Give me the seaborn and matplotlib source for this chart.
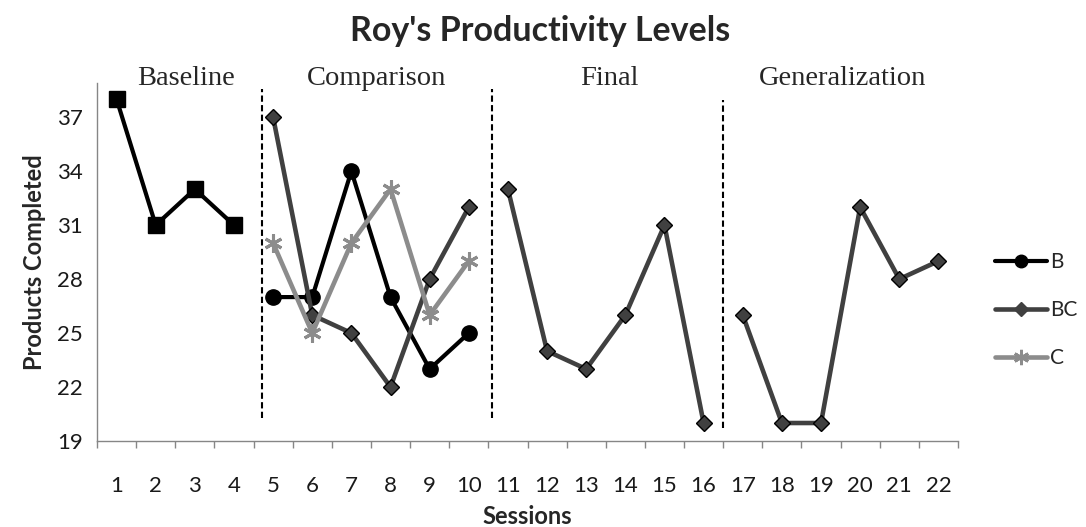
import numpy as np
import pandas as pd
import matplotlib
matplotlib.use("Agg")
import matplotlib.pyplot as plt
import seaborn as sns
from matplotlib.lines import Line2D

# ---- data ----
baseline_sessions = [1, 2, 3, 4]
baseline_values = [38, 31, 33, 31]

comparison_sessions = [5, 6, 7, 8, 9, 10]
b_values = [27, 27, 34, 27, 23, 25]
bc_comparison = [37, 26, 25, 22, 28, 32]
c_values = [30, 25, 30, 33, 26, 29]

final_sessions = [11, 12, 13, 14, 15, 16]
bc_final = [33, 24, 23, 26, 31, 20]

generalization_sessions = [17, 18, 19, 20, 21, 22]
bc_generalization = [26, 20, 20, 32, 28, 29]

phase_names = ["Baseline", "Comparison", "Final", "Generalization"]
phase_label_x = [2.78, 7.64, 13.6, 19.55]
phase_lines_x = [4.72, 10.6, 16.5]
phase_lines_ymin = [20.3, 20.3, 19.7]
phase_lines_ymax = [38.55, 38.55, 37.95]

session_ticks = list(range(1, 23))
y_ticks = [19, 22, 25, 28, 31, 34, 37]

# ---- style ----
sns.set_theme(style="white")
plt.rcParams["font.family"] = ["Lato", "DejaVu Sans"]

BLACK = "#000000"
DARK = "#404040"
LIGHT = "#8c8c8c"
AXIS = "#868686"

fig = plt.figure(figsize=(10.86, 5.27), dpi=100)
ax = fig.add_axes([97 / 1086, 1 - 441 / 527, (958 - 97) / 1086, (441 - 83) / 527])


def seg(x, y, color, marker, ms, mec, mew, lw, z):
    df = pd.DataFrame({"session": x, "value": y})
    sns.lineplot(data=df, x="session", y="value", ax=ax, color=color, lw=lw,
                 marker=marker, markersize=ms, markerfacecolor=color,
                 markeredgecolor=mec, markeredgewidth=mew, zorder=z,
                 estimator=None, legend=False)


seg(baseline_sessions, baseline_values, BLACK, "s", 11, BLACK, 1, 3.0, 3)
seg(comparison_sessions, b_values, BLACK, "o", 11, BLACK, 1, 3.0, 3)
seg(comparison_sessions, bc_comparison, DARK, "D", 8.5, BLACK, 1, 3.3, 4)
seg(comparison_sessions, c_values, LIGHT, (6, 2, 0), 13, LIGHT, 2.2, 3.3, 5)
seg(final_sessions, bc_final, DARK, "D", 8.5, BLACK, 1, 3.3, 4)
seg(generalization_sessions, bc_generalization, DARK, "D", 8.5, BLACK, 1, 3.3, 4)

for x, y0, y1 in zip(phase_lines_x, phase_lines_ymin, phase_lines_ymax):
    ax.plot([x, x], [y0, y1], color=BLACK, lw=1.5, ls=(0, (3, 1.6)), zorder=2)

for name, x in zip(phase_names, phase_label_x):
    ax.text(x, 39.15, name, ha="center", va="center", fontsize=20.5,
            family=["Liberation Serif"], clip_on=False)

ax.set_xlim(0.5, 22.5)
ax.set_ylim(19, 38.9)
ax.set_xticks(session_ticks)
ax.set_xticklabels([str(s) for s in session_ticks])
ax.set_xticks(np.arange(0.5, 23, 1), minor=True)
ax.set_yticks(y_ticks)
ax.tick_params(axis="x", which="major", length=0, pad=25, labelsize=16, colors="#1a1a1a")
ax.tick_params(axis="x", which="minor", length=5, width=1, color=AXIS, direction="out", bottom=True)
ax.tick_params(axis="y", which="major", length=0, pad=10, labelsize=16, colors="#1a1a1a")

for s in ["top", "right"]:
    ax.spines[s].set_visible(False)
for s in ["left", "bottom"]:
    ax.spines[s].set_color(AXIS)
    ax.spines[s].set_linewidth(1)

ax.set_xlabel("Sessions", fontsize=17, fontweight="bold", labelpad=7)
ax.set_ylabel("Products Completed", fontsize=17, fontweight="bold", labelpad=8)

fig.suptitle("Roy's Productivity Levels", x=540 / 1086, y=1 - 15 / 527,
             fontsize=24.5, fontweight="bold", va="top")

handles = [
    Line2D([], [], color=BLACK, lw=3, marker="o", markersize=9),
    Line2D([], [], color=DARK, lw=3.3, marker="D", markersize=7, markeredgecolor=DARK),
    Line2D([], [], color=LIGHT, lw=3.3, marker=(6, 2, 0), markersize=11, markeredgewidth=2),
]
fig.legend(handles, ["B", "BC", "C"], loc="center left",
           bbox_to_anchor=(995 / 1086, 1 - 310 / 527), frameon=False, borderpad=0,
           borderaxespad=0, fontsize=15, handlelength=2.5, handletextpad=0.15,
           labelspacing=1.35)

fig.savefig("out.png", dpi=100)
